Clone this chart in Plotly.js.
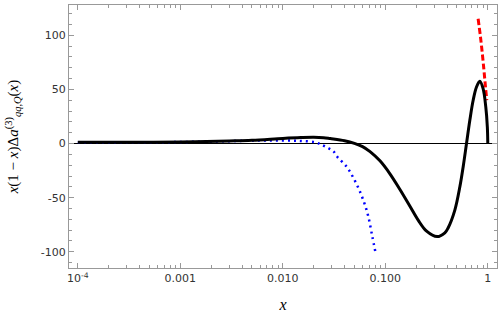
<!DOCTYPE html>
<html>
<head>
<meta charset="utf-8">
<script src="https://cdn.plot.ly/plotly-3.0.1.min.js"></script>
<style>
  html, body { margin: 0; padding: 0; background: #fff; }
  #plot { width: 501px; height: 322px; }
</style>
</head>
<body>
<div id="plot"></div>
<script>
// curva completa (negra)
const xFull = [1e-4, 3e-4, 1e-3, 3e-3, 0.005, 0.01, 0.015, 0.02, 0.025, 0.029, 0.04, 0.05, 0.06,
  0.071, 0.0887, 0.111, 0.139, 0.174, 0.21, 0.253, 0.32, 0.381, 0.41, 0.477, 0.534, 0.575, 0.621,
  0.668, 0.72, 0.776, 0.836, 0.9, 0.956, 0.99, 1.0];
const yFull = [1.1, 1.2, 1.5, 2.4, 3.0, 4.7, 5.5, 5.8, 5.4, 4.6, 2.6, 0.2, -2.8,
  -7.5, -16, -28, -42.5, -58, -71, -81, -86, -82.5, -78, -61.5, -40, -21.6, 0.5,
  21.5, 40, 52.2, 57.5, 50.7, 33.8, 15.3, 0];

// aproximación de x pequeño (azul, punteada)
const xSmall = [1e-4, 3e-4, 1e-3, 3e-3, 0.006, 0.01, 0.0148, 0.0207, 0.0237, 0.027, 0.031, 0.0341,
  0.0421, 0.0492, 0.0567, 0.0634, 0.0684, 0.0748, 0.080];
const ySmall = [1.0, 1.1, 1.4, 2.2, 2.8, 2.8, 2.4, 1.2, -1.0, -3.7, -7.0, -12.4,
  -21.6, -32.3, -44.6, -56.9, -67.7, -86.2, -100];

// aproximación de x grande (roja, discontinua)
const xLarge = [0.805, 0.849, 0.888, 0.921, 0.95, 0.978];
const yLarge = [115.3, 98.3, 81.5, 66, 52.2, 40];

const xTickVals = [1e-4, 1e-3, 1e-2, 1e-1, 1];
const xTickText = ['10<sup>-4</sup>', '0.001', '0.010', '0.100', '1'];
const yTickVals = [-100, -50, 0, 50, 100];
const yTickText = ['-100', '-50', '0', '50', '100'];

const xMinor = [];
for (let e = -4; e < 0; e++) {
  for (let m = 2; m <= 9; m++) xMinor.push(m * Math.pow(10, e));
}

const frameColor = '#999999';
const tickFont = { family: 'DejaVu Sans, sans-serif', size: 11, color: '#333333' };

const datos = [
  {
    type: 'scatter', mode: 'lines', x: xSmall, y: ySmall,
    line: { color: '#0000ff', width: 2.5, dash: '2px,4px', shape: 'spline' },
  },
  {
    type: 'scatter', mode: 'lines', x: xLarge, y: yLarge,
    line: { color: '#ff0000', width: 3, dash: '6px,3px', shape: 'spline' },
  },
  {
    type: 'scatter', mode: 'lines', x: xFull, y: yFull,
    line: { color: '#000000', width: 3, shape: 'spline' },
  },
];

const layout = {
  width: 501,
  height: 322,
  margin: { l: 69, r: 4, t: 5, b: 54 },
  paper_bgcolor: '#ffffff',
  plot_bgcolor: '#ffffff',
  showlegend: false,
  xaxis: {
    type: 'log',
    range: [Math.log10(0.82e-4), Math.log10(1.23)],
    tickvals: xTickVals,
    ticktext: xTickText,
    tickfont: tickFont,
    ticks: 'inside', ticklen: 5, tickcolor: frameColor, tickwidth: 1,
    minor: { tickvals: xMinor, ticks: 'inside', ticklen: 3, tickcolor: frameColor, showgrid: false },
    showline: true, linecolor: frameColor, linewidth: 1, mirror: 'ticks',
    showgrid: false, zeroline: false,
    title: { text: '<i>x</i>', font: { family: 'Liberation Serif, serif', size: 16, color: '#000' }, standoff: 14 },
  },
  yaxis: {
    range: [-115, 128],
    tickvals: yTickVals,
    ticktext: yTickText,
    tickfont: tickFont,
    ticks: 'inside', ticklen: 5, tickcolor: frameColor, tickwidth: 1,
    minor: { dtick: 10, tick0: 0, ticks: 'inside', ticklen: 3, tickcolor: frameColor, showgrid: false },
    showline: true, linecolor: frameColor, linewidth: 1, mirror: 'ticks',
    showgrid: false,
    zeroline: true, zerolinecolor: '#000000', zerolinewidth: 1,
    title: {
      text: '<i>x</i>(1 − <i>x</i>)Δ<i>a</i><sup>(3)</sup><sub><i>qq</i>,<i>Q</i></sub>(<i>x</i>)',
      font: { family: 'Liberation Serif, serif', size: 15, color: '#000' },
      standoff: 18,
    },
  },
};

Plotly.newPlot('plot', datos, layout, { staticPlot: true, displayModeBar: false });
</script>
</body>
</html>
